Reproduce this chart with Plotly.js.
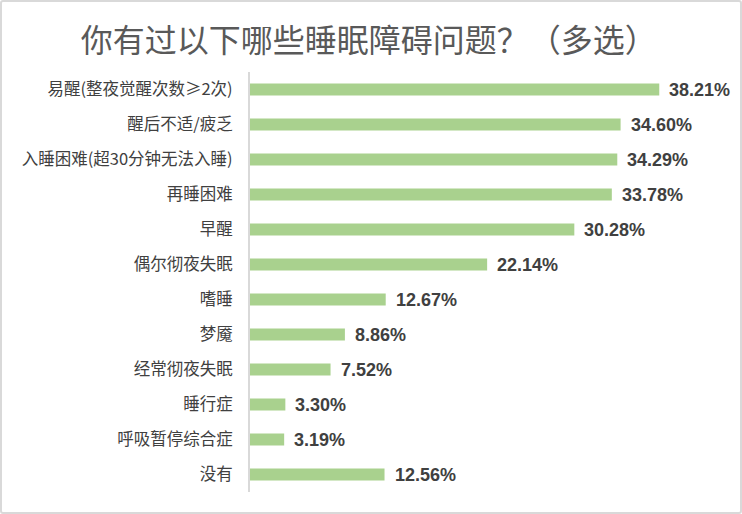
<!DOCTYPE html>
<html><head><meta charset="utf-8">
<script src="https://cdn.plot.ly/plotly-3.0.1.min.js"></script>
<style>
body{margin:0;padding:0;background:#fff;}
#wrap{position:relative;width:742px;height:514px;}
#frame{position:absolute;left:0;top:0;width:738px;height:510px;border:2px solid #d9d9d9;border-radius:3px;pointer-events:none;}
</style></head>
<body><div id="wrap"><div id="chart" style="width:742px;height:514px;"></div><div id="frame"></div></div>
<script>
const categories = ["易醒(整夜觉醒次数≥2次)","醒后不适/疲乏","入睡困难(超30分钟无法入睡)","再睡困难","早醒","偶尔彻夜失眠","嗜睡","梦魇","经常彻夜失眠","睡行症","呼吸暂停综合症","没有"];
const values = [38.21,34.60,34.29,33.78,30.28,22.14,12.67,8.86,7.52,3.30,3.19,12.56];
const labels = values.map(v => v.toFixed(2) + "%");

const trace = {
  type: "bar", orientation: "h",
  x: values, y: categories,
  marker: {color: "#a9d18e"},
  hoverinfo: "none"
};
const annotations = values.map((v, i) => ({
  x: v, y: categories[i], xref: "x", yref: "y",
  text: labels[i], showarrow: false, xanchor: "left", xshift: 8,
  font: {family: "Liberation Sans, Arial, sans-serif", size: 18, color: "#404040", weight: "bold"}
}));
const layout = {
  width: 742, height: 514,
  margin: {l: 250, r: 10, t: 72, b: 22},
  paper_bgcolor: "#fff", plot_bgcolor: "#fff",
  title: {text: "你有过以下哪些睡眠障碍问题？（多选）", x: 0.497, xanchor: "center", y: 0.92, yanchor: "middle",
    font: {family: "Noto Sans CJK SC", size: 32, color: "#595959"}},
  bargap: 0.66,
  xaxis: {range: [0, 45], visible: false, fixedrange: true},
  yaxis: {type: "category", autorange: "reversed", showline: true, linecolor: "#d9d9d9", linewidth: 2,
    showgrid: false, ticks: "", ticklabelstandoff: 12,
    tickfont: {family: "Noto Sans CJK SC", size: 16.5, color: "#404040"}},
  annotations: annotations,
  showlegend: false
};
Plotly.newPlot("chart", [trace], layout, {displayModeBar: false, staticPlot: true});
</script></body></html>
